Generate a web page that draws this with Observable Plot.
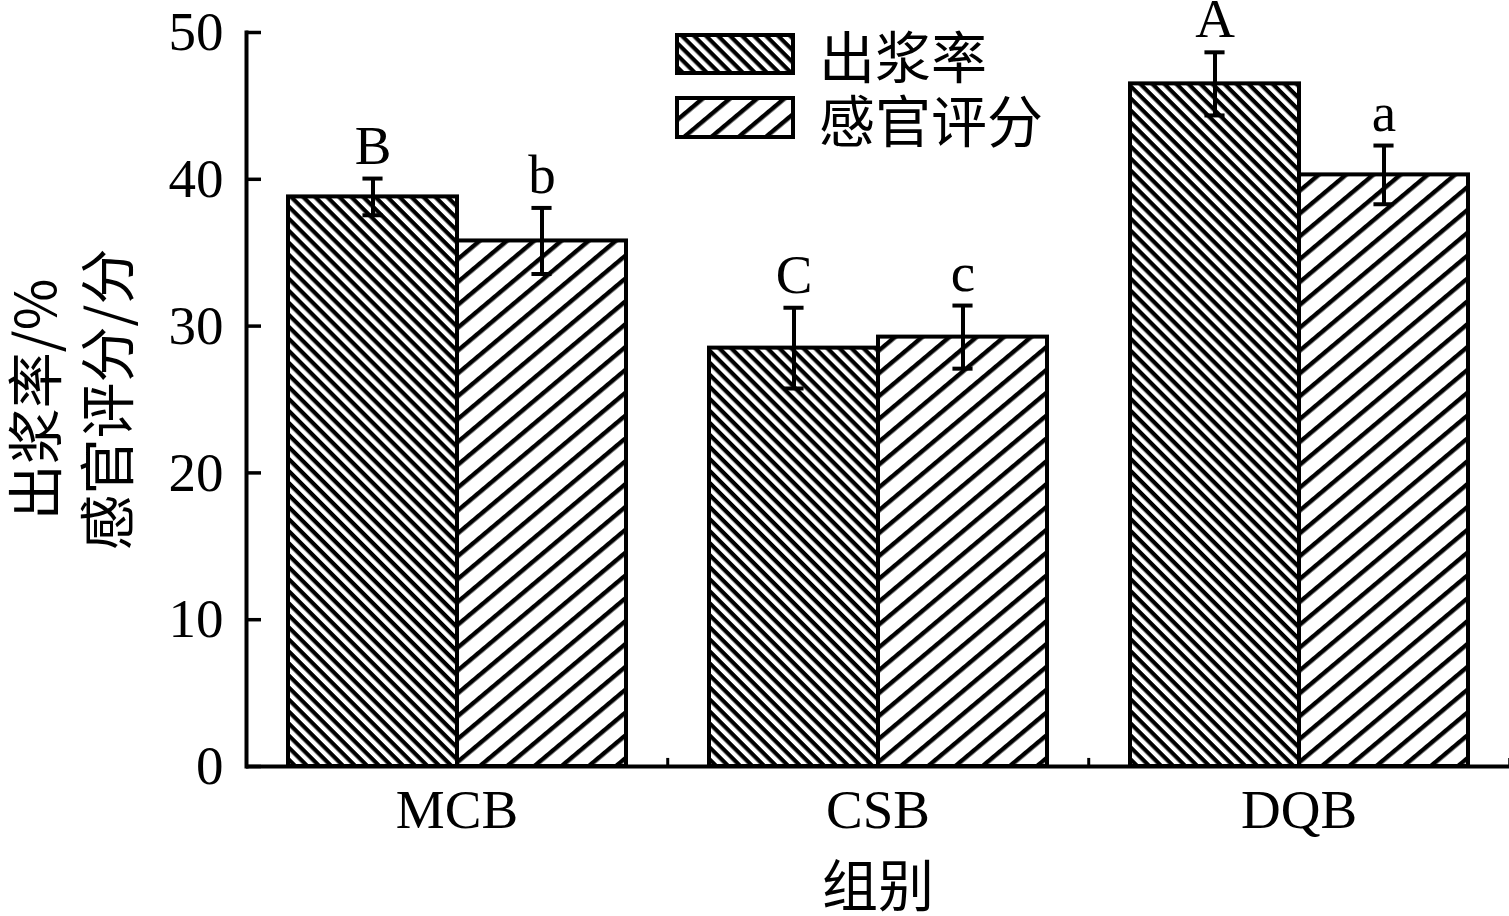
<!DOCTYPE html>
<html>
<head>
<meta charset="utf-8">
<script src="https://cdn.jsdelivr.net/npm/d3@7"></script>
<script src="https://cdn.jsdelivr.net/npm/@observablehq/plot@0.6"></script>
<style>
  html, body { margin: 0; padding: 0; background: white; }
  #wrap { position: relative; width: 1509px; height: 916px; }
  #legend { position: absolute; left: 0; top: 0; pointer-events: none; }
</style>
</head>
<body>
<svg width="0" height="0" style="position:absolute">
  <defs>
    <pattern id="hatchA" patternUnits="userSpaceOnUse" width="8.5" height="8.5" patternTransform="rotate(45)">
      <rect width="8.5" height="8.5" fill="white"/>
      <rect width="8.5" height="4.2" fill="black"/>
    </pattern>
    <pattern id="hatchB" patternUnits="userSpaceOnUse" width="17.5" height="17.5" patternTransform="rotate(-40)">
      <rect width="17.5" height="17.5" fill="white"/>
      <rect width="17.5" height="4.4" fill="black"/>
    </pattern>
  </defs>
</svg>
<div id="wrap"></div>
<script>
// ---- data ----
const groups = ["MCB", "CSB", "DQB"];
const series = ["出浆率", "感官评分"];
const yieldValues = [38.8, 28.5, 46.5];
const yieldErrors = [1.25, 2.75, 2.15];
const yieldLetters = ["B", "C", "A"];
const sensoryValues = [35.8, 29.25, 40.3];
const sensoryErrors = [2.25, 2.15, 2.0];
const sensoryLetters = ["b", "c", "a"];
const yTicks = [0, 10, 20, 30, 40, 50];
const xLabel = "组别";
const yLabel = "出浆率/%\n感官评分/分";
const patterns = ["url(#hatchA)", "url(#hatchB)"];

const rows = [];
groups.forEach((g, i) => {
  rows.push({group: g, series: series[0], value: yieldValues[i], err: yieldErrors[i], letter: yieldLetters[i]});
  rows.push({group: g, series: series[1], value: sensoryValues[i], err: sensoryErrors[i], letter: sensoryLetters[i]});
});

// layout constants
const W = 1509, H = 916, mL = 245, mR = 0, mT = 32, mB = 150;
const padOuter = 0.24;
const facetW = (W - mL - mR) / groups.length;
const step = facetW / (series.length + 2 * padOuter);
const edgeDx = (padOuter + 0.5) * step;
const capHalf = 10.5;
const capInset = step / 2 - capHalf;

const latin = "'Liberation Serif', 'Times New Roman', serif";
const cjk = "'Noto Sans CJK SC', sans-serif";

const chart = Plot.plot({
  width: W, height: H,
  marginLeft: mL, marginRight: mR, marginTop: mT, marginBottom: mB,
  style: {fontFamily: latin, background: "white", color: "black", overflow: "visible"},
  fx: {domain: groups, padding: 0, label: null},
  x: {domain: series, paddingInner: 0, paddingOuter: padOuter, axis: null},
  y: {domain: [0, 50]},
  color: {domain: series, range: patterns},
  marks: [
    Plot.barY(rows, {fx: "group", x: "series", y: "value", fill: "series", stroke: "black", strokeWidth: 4}),
    Plot.ruleX(rows, {fx: "group", x: "series", y1: d => d.value - d.err, y2: d => d.value + d.err, stroke: "black", strokeWidth: 4}),
    Plot.tickY(rows, {fx: "group", x: "series", y: d => d.value + d.err, insetLeft: capInset, insetRight: capInset, stroke: "black", strokeWidth: 4}),
    Plot.tickY(rows, {fx: "group", x: "series", y: d => d.value - d.err, insetLeft: capInset, insetRight: capInset, stroke: "black", strokeWidth: 4}),
    Plot.text(rows, {fx: "group", x: "series", y: d => d.value + d.err, text: "letter", lineAnchor: "bottom", dy: -15, fontSize: 55, fontFamily: latin, fill: "black"}),
    Plot.ruleY([0], {stroke: "black", strokeWidth: 4}),
    Plot.ruleX(groups, {fx: d => d, x: () => series[1], y1: 0, y2: 0.55, dx: edgeDx, stroke: "black", strokeWidth: 3}),
    Plot.frame({anchor: "left", facetAnchor: "left", stroke: "black", strokeWidth: 4}),
    Plot.axisY({ticks: yTicks, tickSize: -15, tickPadding: 38, strokeWidth: 3.5, fontSize: 55, fontFamily: latin, label: null}),
    Plot.axisFx({anchor: "bottom", tickSize: 0, tickPadding: 22, fontSize: 55, fontFamily: latin, label: null}),
    Plot.text([xLabel], {fx: () => groups[1], frameAnchor: "bottom", dy: 122, lineAnchor: "middle", fontSize: 56, fontFamily: cjk, fill: "black"}),
    Plot.text([yLabel], {fx: () => groups[0], frameAnchor: "left", dx: -178, rotate: -90, lineAnchor: "middle", textAnchor: "middle", lineHeight: 1.29, fontSize: 56, fontFamily: cjk, fill: "black"})
  ]
});

const wrap = document.getElementById("wrap");
wrap.appendChild(chart);

// legend overlay
const ns = "http://www.w3.org/2000/svg";
const leg = document.createElementNS(ns, "svg");
leg.setAttribute("id", "legend");
leg.setAttribute("width", W);
leg.setAttribute("height", H);
const legendRows = [{y: 35, h: 38, cy: 53}, {y: 98, h: 39, cy: 117}];
series.forEach((s, i) => {
  const r = document.createElementNS(ns, "rect");
  r.setAttribute("x", 677); r.setAttribute("y", legendRows[i].y);
  r.setAttribute("width", 116); r.setAttribute("height", legendRows[i].h);
  r.setAttribute("fill", patterns[i]); r.setAttribute("stroke", "black"); r.setAttribute("stroke-width", 4);
  leg.appendChild(r);
  const t = document.createElementNS(ns, "text");
  t.setAttribute("x", 819); t.setAttribute("y", legendRows[i].cy);
  t.setAttribute("dominant-baseline", "central");
  t.setAttribute("font-family", "Noto Sans CJK SC, sans-serif");
  t.setAttribute("font-size", 56);
  t.textContent = s;
  leg.appendChild(t);
});
wrap.appendChild(leg);
</script>
</body>
</html>
